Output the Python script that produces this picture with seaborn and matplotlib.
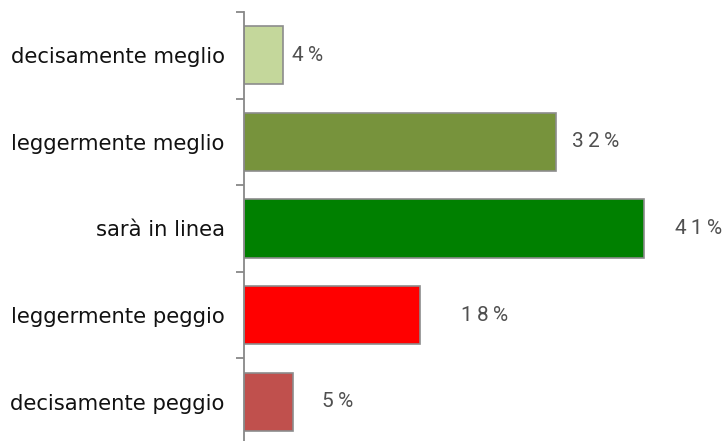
import matplotlib
matplotlib.use("Agg")
import matplotlib.pyplot as plt
import seaborn as sns
import pandas as pd
import numpy as np

categories = ["decisamente meglio", "leggermente meglio", "sarà in linea",
              "leggermente peggio", "decisamente peggio"]
values = [4, 32, 41, 18, 5]
colors = ["#C4D79B", "#77933C", "#008000", "#FF0000", "#C0504D"]
# horizontal gap (in % units) between bar end and its label
label_offsets = [0.9, 1.6, 3.2, 4.3, 3.0]

sns.set_theme(style="white")
plt.rcParams["font.family"] = ["DejaVu Sans"]

df = pd.DataFrame({"cat": categories, "val": values})

fig = plt.figure(figsize=(7.24, 4.41), dpi=100)
ax = fig.add_axes([244 / 724, 1 - 445 / 441, 1 - 244 / 724, 433 / 441])

sns.barplot(data=df, y="cat", x="val", hue="cat", palette=colors,
            order=categories, hue_order=categories, legend=False,
            width=0.67, edgecolor="#8C8C8C", linewidth=1.2, ax=ax,
            orient="h", saturation=1)

ax.set_xlim(0, 480 / 9.75)
ax.set_ylim(4.5, -0.5)
ax.set_xlabel("")
ax.set_ylabel("")
ax.set_xticks([])

for s in ["top", "right", "bottom"]:
    ax.spines[s].set_visible(False)
ax.spines["left"].set_color("#888888")
ax.spines["left"].set_linewidth(1.3)

ax.set_yticks(range(len(categories)))
ax.set_yticklabels(categories, fontsize=15.2, color="#111111")
ax.tick_params(axis="y", which="major", length=0, pad=14)
ax.set_yticks(np.arange(-0.5, len(categories), 1.0), minor=True)
ax.tick_params(axis="y", which="minor", length=6, width=1.3,
               color="#888888", direction="out", left=True)

for i, (v, off) in enumerate(zip(values, label_offsets)):
    txt = "\u2009".join(list(f"{v}%"))
    ax.text(v + off, i, txt, va="center", ha="left",
            fontsize=15, color="#505050", fontweight="normal",
            family=["Roboto", "DejaVu Sans"])

fig.savefig("out.png", dpi=100)
